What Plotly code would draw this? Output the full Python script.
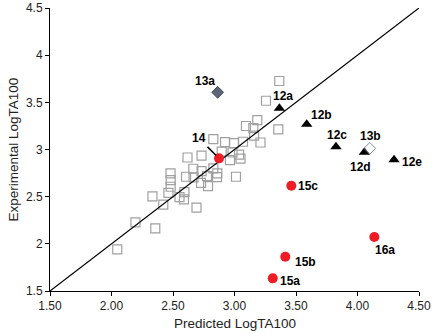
import plotly.graph_objects as go

# Training-set compounds (open squares)
train_pred = [3.364, 3.256, 3.185, 3.093, 3.153, 3.159, 3.211, 3.356, 2.828, 2.923,
              2.996, 3.069, 2.896, 2.984, 3.037, 3.049, 2.963, 2.732, 2.618, 2.665,
              2.732, 2.828, 2.480, 2.481, 2.481, 2.606, 2.667, 2.776, 2.860, 2.858,
              3.012, 2.728, 2.785, 2.463, 2.333, 2.421, 2.553, 2.589, 2.593, 2.691,
              2.195, 2.356, 2.047]
train_exp = [3.726, 3.517, 3.312, 3.249, 3.227, 3.148, 3.074, 3.214, 3.111, 3.079,
             3.068, 3.082, 2.978, 2.968, 2.946, 2.904, 2.888, 2.936, 2.915, 2.796,
             2.771, 2.800, 2.747, 2.676, 2.605, 2.711, 2.705, 2.718, 2.747, 2.708,
             2.711, 2.647, 2.612, 2.541, 2.503, 2.416, 2.496, 2.471, 2.549, 2.384,
             2.227, 2.164, 1.941]

# Series 12 (black triangles)
tri_names = ["12a", "12b", "12c", "12d", "12e"]
tri_pred = [3.365, 3.587, 3.825, 4.056, 4.297]
tri_exp = [3.436, 3.267, 3.029, 2.970, 2.891]

# Compound 13a (filled diamond) and 13b (open diamond)
d13a_pred = [2.863]
d13a_exp = [3.606]
d13b_pred = [4.100]
d13b_exp = [3.012]

# Red circles: 14, 15a, 15b, 15c, 16a
red_names = ["14", "15a", "15b", "15c", "16a"]
red_pred = [2.874, 3.311, 3.413, 3.462, 4.137]
red_exp = [2.906, 1.634, 1.863, 2.616, 2.072]

# identity line
diag = [1.5, 4.5]

x_ticks = [1.5, 2.0, 2.5, 3.0, 3.5, 4.0, 4.5]
x_ticktext = ["1.50", "2.00", "2.50", "3.00", "3.50", "4.00", "4.50"]
y_ticks = [1.5, 2.0, 2.5, 3.0, 3.5, 4.0, 4.5]
y_ticktext = ["1.5", "2", "2.5", "3", "3.5", "4", "4.5"]

FONT = "Liberation Sans, Arial, Helvetica, sans-serif"

fig = go.Figure()
fig.add_trace(go.Scatter(x=train_pred, y=train_exp, mode="markers",
                         marker=dict(symbol="square-open", size=9, color="#a0a0a0",
                                     line=dict(width=1.2, color="#a0a0a0")),
                         showlegend=False, hoverinfo="skip", cliponaxis=False))
fig.add_trace(go.Scatter(x=diag, y=diag, mode="lines",
                         line=dict(color="black", width=1.2),
                         showlegend=False, hoverinfo="skip"))
fig.add_trace(go.Scatter(x=tri_pred, y=tri_exp, mode="markers",
                         marker=dict(symbol="triangle-up", size=10, color="black"),
                         showlegend=False))
fig.add_trace(go.Scatter(x=d13a_pred, y=d13a_exp, mode="markers",
                         marker=dict(symbol="diamond", size=9, color="#5c6478",
                                     line=dict(width=1, color="#3e4558")),
                         showlegend=False))
fig.add_trace(go.Scatter(x=d13b_pred, y=d13b_exp, mode="markers",
                         marker=dict(symbol="diamond-open", size=9, color="#7d8aa8",
                                     line=dict(width=1, color="#7d8aa8")),
                         showlegend=False))
fig.add_trace(go.Scatter(x=red_pred, y=red_exp, mode="markers",
                         marker=dict(symbol="circle", size=10, color="#ee1c25"),
                         showlegend=False))

lab_font = dict(family=FONT, size=12, color="black")

# label offsets in pixels (xshift, yshift)
tri_off = {"12a": (4, 12), "12b": (15, 9), "12c": (1, 12), "12d": (-4, -15), "12e": (18, -2)}
for n, xp, yp in zip(tri_names, tri_pred, tri_exp):
    dx, dy = tri_off[n]
    fig.add_annotation(x=xp, y=yp, text="<b>%s</b>" % n, showarrow=False,
                       xshift=dx, yshift=dy, font=lab_font)

fig.add_annotation(x=d13a_pred[0], y=d13a_exp[0], text="<b>13a</b>", showarrow=False,
                   xshift=-13, yshift=11, font=lab_font)
fig.add_annotation(x=d13b_pred[0], y=d13b_exp[0], text="<b>13b</b>", showarrow=False,
                   xshift=1, yshift=12, font=lab_font)

red_off = {"15a": (17, -3), "15b": (20, -5), "15c": (17, 0), "16a": (11, -13)}
for n, xp, yp in zip(red_names, red_pred, red_exp):
    if n == "14":
        fig.add_annotation(x=xp, y=yp, text="<b>14</b>", showarrow=True,
                           arrowhead=0, arrowwidth=1.5, arrowcolor="black",
                           ax=-20, ay=-20, standoff=4, font=lab_font)
    else:
        dx, dy = red_off[n]
        fig.add_annotation(x=xp, y=yp, text="<b>%s</b>" % n, showarrow=False,
                           xshift=dx, yshift=dy, font=lab_font)

# axis titles
title_font = dict(family=FONT, size=13.5, color="#222")
fig.add_annotation(x=0.5, y=0, xref="paper", yref="paper", text="Predicted LogTA100",
                   showarrow=False, yshift=-32, yanchor="middle", font=title_font)
fig.add_annotation(x=0, y=0.5, xref="paper", yref="paper", text="Experimental LogTA100",
                   showarrow=False, xshift=-37, xanchor="center", textangle=-90,
                   font=title_font)

axis_common = dict(showgrid=False, zeroline=False, showline=True, linecolor="black",
                   linewidth=1, ticks="outside", ticklen=4, tickcolor="black",
                   automargin=False,
                   tickfont=dict(family=FONT, size=12, color="#222"))

fig.update_xaxes(range=[1.5, 4.5], tickvals=x_ticks, ticktext=x_ticktext, **axis_common)
fig.update_yaxes(range=[1.5, 4.5], tickvals=y_ticks, ticktext=y_ticktext, **axis_common)

fig.update_layout(width=432, height=334, margin=dict(l=50, r=13, t=8, b=43),
                  plot_bgcolor="white", paper_bgcolor="white")

fig.write_html("out.html", config={"displayModeBar": False},
               post_script="document.body.style.margin='0';document.body.style.padding='0';")
